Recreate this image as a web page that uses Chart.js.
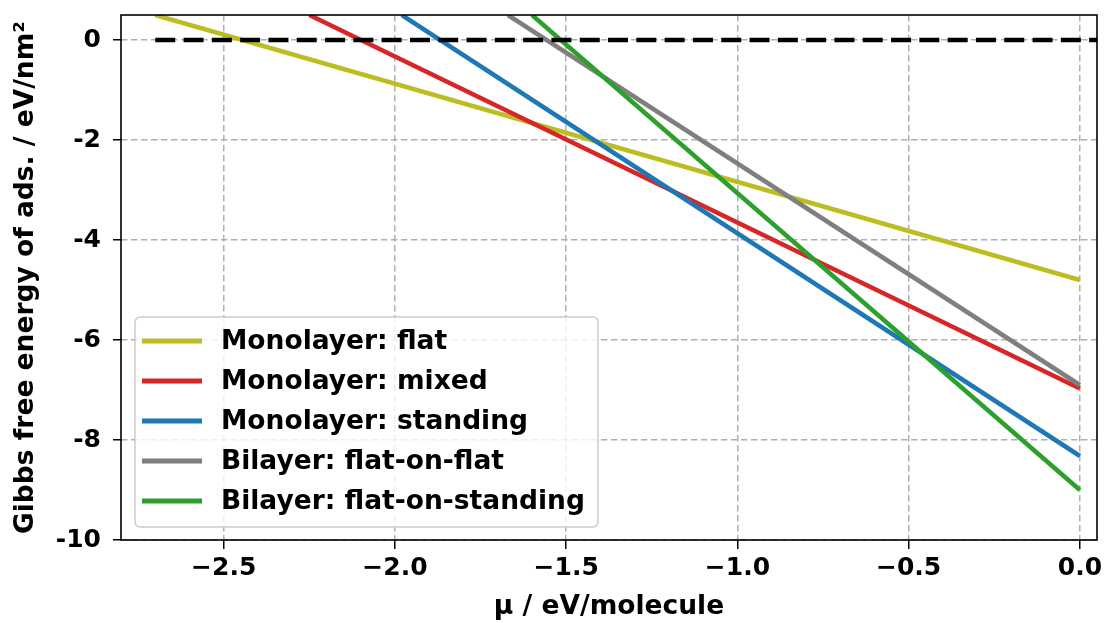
<!DOCTYPE html>
<html>
<head>
<meta charset="utf-8">
<script src="https://cdn.jsdelivr.net/npm/chart.js@4"></script>
<style>
  html, body { margin: 0; padding: 0; background: #fff; }
  #wrap { width: 1105px; height: 623px; }
</style>
</head>
<body>
<div id="wrap"><canvas id="gibbsChart"></canvas></div>
<script>
// chemical potential (eV/molecule) and Gibbs free energy (eV/nm^2) at line ends
const flatMu = [-2.7, 0];
const flatG = [0.5, -4.8];
const mixedMu = [-2.25, 0];
const mixedG = [0.5, -6.97];
const standingMu = [-1.98, 0];
const standingG = [0.5, -8.32];
const flatOnFlatMu = [-1.67, 0];
const flatOnFlatG = [0.5, -6.9];
const flatOnStandingMu = [-1.6, 0];
const flatOnStandingG = [0.5, -9.0];
const zeroMu = [-2.7, 0.1];
const zeroG = [0, 0];

const xTicks = [-2.5, -2.0, -1.5, -1.0, -0.5, 0.0];
const yTicks = [-10, -8, -6, -4, -2, 0];

const series = [
  { label: "Monolayer: flat", mu: flatMu, g: flatG, color: "#bcbd22" },
  { label: "Monolayer: mixed", mu: mixedMu, g: mixedG, color: "#d62728" },
  { label: "Monolayer: standing", mu: standingMu, g: standingG, color: "#1f77b4" },
  { label: "Bilayer: flat-on-flat", mu: flatOnFlatMu, g: flatOnFlatG, color: "#7f7f7f" },
  { label: "Bilayer: flat-on-standing", mu: flatOnStandingMu, g: flatOnStandingG, color: "#2ca02c" },
];

const toPoints = (xs, ys) => xs.map((x, i) => ({ x, y: ys[i] }));

const datasets = series.map((s, i) => ({
  label: s.label,
  data: toPoints(s.mu, s.g),
  borderColor: s.color,
  backgroundColor: s.color,
  borderWidth: 4.5,
  pointRadius: 0,
  fill: false,
  clip: 0,
  order: 10 - i,
}));
datasets.push({
  label: "zero",
  data: toPoints(zeroMu, zeroG),
  borderColor: "#000",
  borderWidth: 4.5,
  borderDash: [20, 8.3],
  pointRadius: 0,
  fill: false,
  clip: 0,
  order: 0,
});

const FONT = "DejaVu Sans";
Chart.defaults.font.family = FONT;
Chart.defaults.font.weight = "bold";
Chart.defaults.font.size = 25;
Chart.defaults.color = "#000";

// axes frame + legend box inside the plot, lower left
const framePlugin = {
  id: "frame",
  afterDraw(chart) {
    const { ctx, chartArea: a } = chart;
    ctx.save();
    ctx.strokeStyle = "#000";
    ctx.lineWidth = 1.6;
    ctx.strokeRect(a.left, a.top, a.right - a.left, a.bottom - a.top);

    const items = chart.data.datasets.filter((d) => d.label !== "zero");
    const bx = a.left + 14, bw = 463, rowH = 40;
    const bh = items.length * rowH + 10;
    const by = a.bottom - 13 - bh;
    ctx.beginPath();
    ctx.roundRect(bx, by, bw, bh, 5);
    ctx.fillStyle = "rgba(255,255,255,0.8)";
    ctx.fill();
    ctx.strokeStyle = "#cccccc";
    ctx.lineWidth = 1.5;
    ctx.stroke();

    ctx.font = "bold 26.5px " + FONT;
    ctx.textBaseline = "middle";
    ctx.fillStyle = "#000";
    items.forEach((d, i) => {
      const cy = by + 24 + i * rowH;
      ctx.beginPath();
      ctx.strokeStyle = d.borderColor;
      ctx.lineWidth = 5;
      ctx.moveTo(bx + 7, cy);
      ctx.lineTo(bx + 67, cy);
      ctx.stroke();
      ctx.fillText(d.label, bx + 86, cy + 1);
    });
    ctx.restore();
  },
};

new Chart(document.getElementById("gibbsChart"), {
  type: "line",
  data: { datasets },
  plugins: [framePlugin],
  options: {
    responsive: true,
    maintainAspectRatio: false,
    animation: false,
    layout: { padding: { top: 15, right: 8, left: 0, bottom: 0 } },
    plugins: { legend: { display: false }, tooltip: { enabled: false } },
    scales: {
      x: {
        type: "linear",
        min: -2.8,
        max: 0.05,
        afterBuildTicks: (scale) => { scale.ticks = xTicks.map((v) => ({ value: v })); },
        afterFit: (scale) => {
          scale.height = 83;
          scale.paddingLeft = 0;
          scale.paddingRight = 0;
        },
        ticks: {
          padding: 4,
          maxRotation: 0,
          callback: (v) => (v < 0 ? "\u2212" + Math.abs(v).toFixed(1) : v.toFixed(1)),
        },
        grid: { color: "#b0b0b0", lineWidth: 1.5, tickColor: "#000", tickLength: 9, tickWidth: 1.5, tickBorderDash: [] },
        border: { display: false, dash: [6.5, 3.5] },
        title: { display: true, text: "\u03bc / eV/molecule", font: { size: 26.5, weight: "bold" }, padding: { top: 0, bottom: 0 } },
      },
      y: {
        type: "linear",
        min: -10,
        max: 0.5,
        afterBuildTicks: (scale) => { scale.ticks = yTicks.map((v) => ({ value: v })); },
        afterFit: (scale) => {
          scale.width = 121;
          scale.paddingTop = 0;
          scale.paddingBottom = 0;
        },
        ticks: { padding: 12, callback: (v) => String(v) },
        grid: { color: "#b0b0b0", lineWidth: 1.5, tickColor: "#000", tickLength: 8, tickWidth: 1.5, tickBorderDash: [] },
        border: { display: false, dash: [6.5, 3.5] },
        title: { display: true, text: "Gibbs free energy of ads. / eV/nm\u00b2", font: { size: 26.5, weight: "bold" }, padding: { top: 10, bottom: 0 } },
      },
    },
  },
});
</script>
</body>
</html>
